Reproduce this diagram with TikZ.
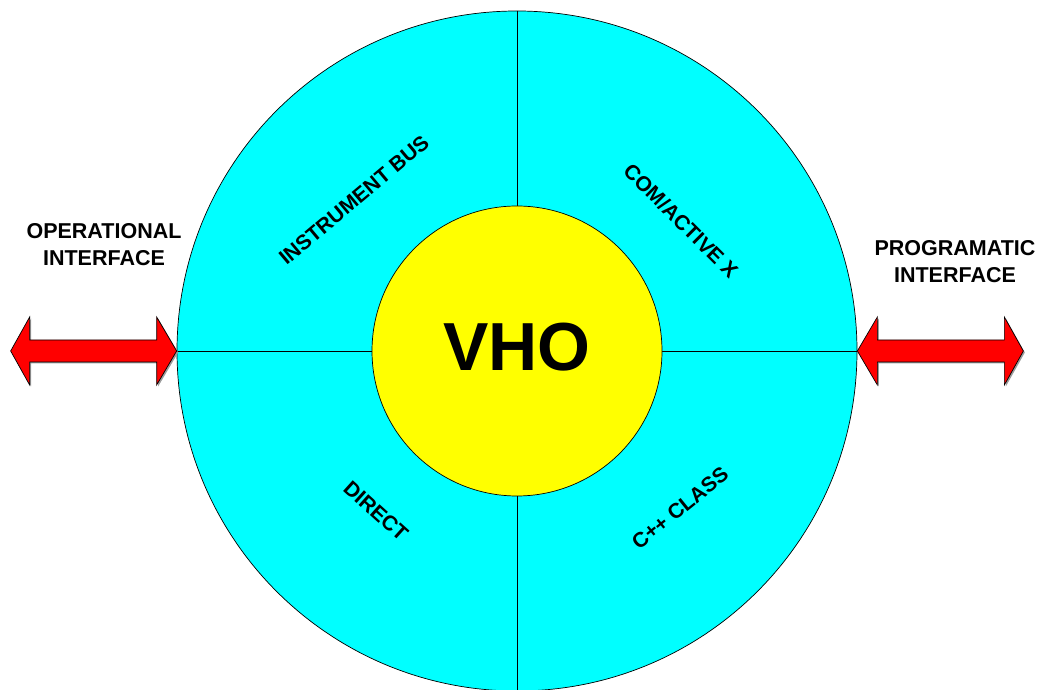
\documentclass[tikz,border=0pt]{standalone}
\usepackage{fontspec}
\setmainfont{Liberation Sans}
\usepackage{xcolor}
\usetikzlibrary{calc,shadows}
\definecolor{ringfill}{HTML}{00FFFF}
\definecolor{corefill}{HTML}{FFFF00}
\definecolor{arrowred}{HTML}{FF0000}
\definecolor{shadegray}{HTML}{9C9C9C}

\begin{document}
\begin{tikzpicture}[x=1pt,y=1pt,
    outerring/.style={circle,draw=black,fill=ringfill,line width=0.7pt,minimum size=680pt,inner sep=0pt},
    corecircle/.style={circle,draw=black,fill=corefill,line width=0.7pt,minimum size=290pt,inner sep=0pt},
    divider/.style={draw=black,line width=0.7pt},
    coretext/.style={font=\fontsize{68}{70}\selectfont\bfseries},
    sectorlabel/.style={font=\fontsize{21}{24}\selectfont\bfseries},
    sidelabel/.style={align=center,font=\fontsize{21.5}{27}\selectfont\bfseries},
    bigarrow/.style={draw=black,fill=arrowred,line width=0.7pt,line join=miter,
        drop shadow={shadow xshift=1.5pt,shadow yshift=-1.5pt,fill=shadegray,opacity=1}}
]
\useasboundingbox (0,0) rectangle (1038,690);
% outer ring and quadrant lines
\node[outerring] (ring) at (517,339) {};
\draw[divider] (ring.north) -- (ring.south);
\draw[divider] (ring.west) -- (ring.east);
\node[corecircle] (core) at (517,339) {};
\node[coretext] (vho) at (517,343) {VHO};
% quadrant labels
\node[sectorlabel,rotate=40] (bus) at (354,490) {INSTRUMENT BUS};
\node[sectorlabel,rotate=-45] (com) at (681,469) {COM/ACTIVE X};
\node[sectorlabel,rotate=-42] (direct) at (376,179) {DIRECT};
\node[sectorlabel,rotate=39] (cpp) at (680,182) {C++ CLASS};
% interfaces
\draw[bigarrow] (ring.west) -- ++(-20,34) -- ++(0,-23) -- ++(-127,0) -- ++(0,23) -- ++(-19,-34)
    -- ++(19,-34) -- ++(0,23) -- ++(127,0) -- ++(0,-23) -- cycle;
\draw[bigarrow] (ring.east) -- ++(20,34) -- ++(0,-23) -- ++(127,0) -- ++(0,23) -- ++(19,-34)
    -- ++(-19,-34) -- ++(0,23) -- ++(-127,0) -- ++(0,-23) -- cycle;
\node[sidelabel] (opLabel) at (104,445) {OPERATIONAL\\INTERFACE};
\node[sidelabel] (progLabel) at (955,428) {PROGRAMATIC\\INTERFACE};
\end{tikzpicture}
\end{document}
